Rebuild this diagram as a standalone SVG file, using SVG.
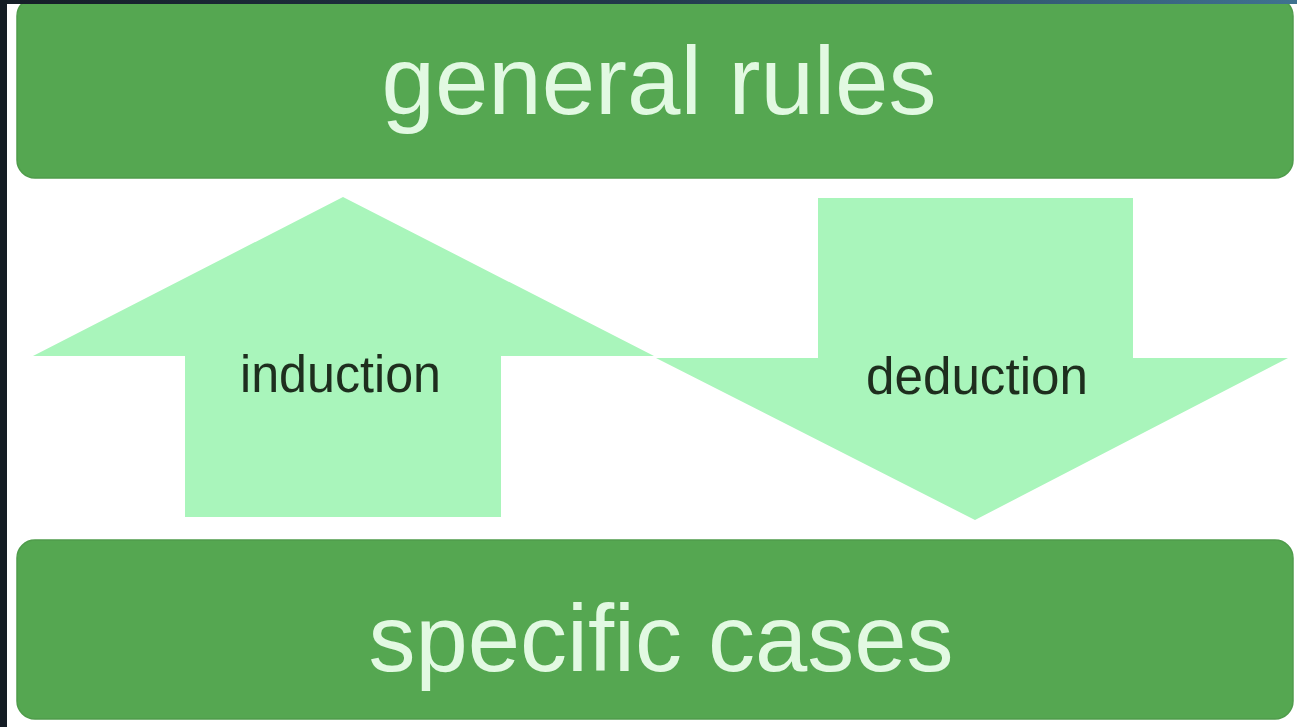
<svg xmlns="http://www.w3.org/2000/svg" width="1297" height="727" viewBox="0 0 1297 727">
  <style>
    .box { fill: #55a751; stroke: #4f9c4b; stroke-width: 1.5; }
    .boxText { font-family: "Liberation Sans", Arial, sans-serif; fill: #e2f9e2; text-anchor: middle; }
    .arrow { fill: #a9f5bb; }
    .arrowText { font-family: "Liberation Sans", Arial, sans-serif; font-size: 51px; fill: #1e2e1e; }
  </style>
  <defs>
    <linearGradient id="topBand" x1="0" y1="0" x2="1" y2="0">
      <stop offset="0" stop-color="#151e27"/>
      <stop offset="0.5" stop-color="#223a4c"/>
      <stop offset="1" stop-color="#3f7290"/>
    </linearGradient>
  </defs>
  <rect x="0" y="0" width="1297" height="727" fill="#ffffff"/>
  <g id="general-rules">
    <rect class="box" x="17" y="-2" width="1276" height="180" rx="18" ry="18"/>
    <text class="boxText" x="659" y="114" font-size="96">general rules</text>
  </g>
  <g id="specific-cases">
    <rect class="box" x="17" y="540" width="1276" height="179" rx="18" ry="18"/>
    <text class="boxText" x="661" y="671" font-size="94">specific cases</text>
  </g>
  <g id="connectors">
    <g id="induction">
      <polygon class="arrow" points="343,197 654,356 501,356 501,517 185,517 185,356 33,356"/>
      <text class="arrowText" x="240" y="392" textLength="201" lengthAdjust="spacingAndGlyphs">induction</text>
    </g>
    <g id="deduction">
      <polygon class="arrow" points="818,198 1133,198 1133,358 1288,358 975,520 656,358 818,358"/>
      <text class="arrowText" x="866" y="394" textLength="222" lengthAdjust="spacingAndGlyphs">deduction</text>
    </g>
  </g>
  <rect x="0" y="0" width="1297" height="4" fill="url(#topBand)"/>
  <rect x="0" y="0" width="7" height="727" fill="#141c24"/>
</svg>
